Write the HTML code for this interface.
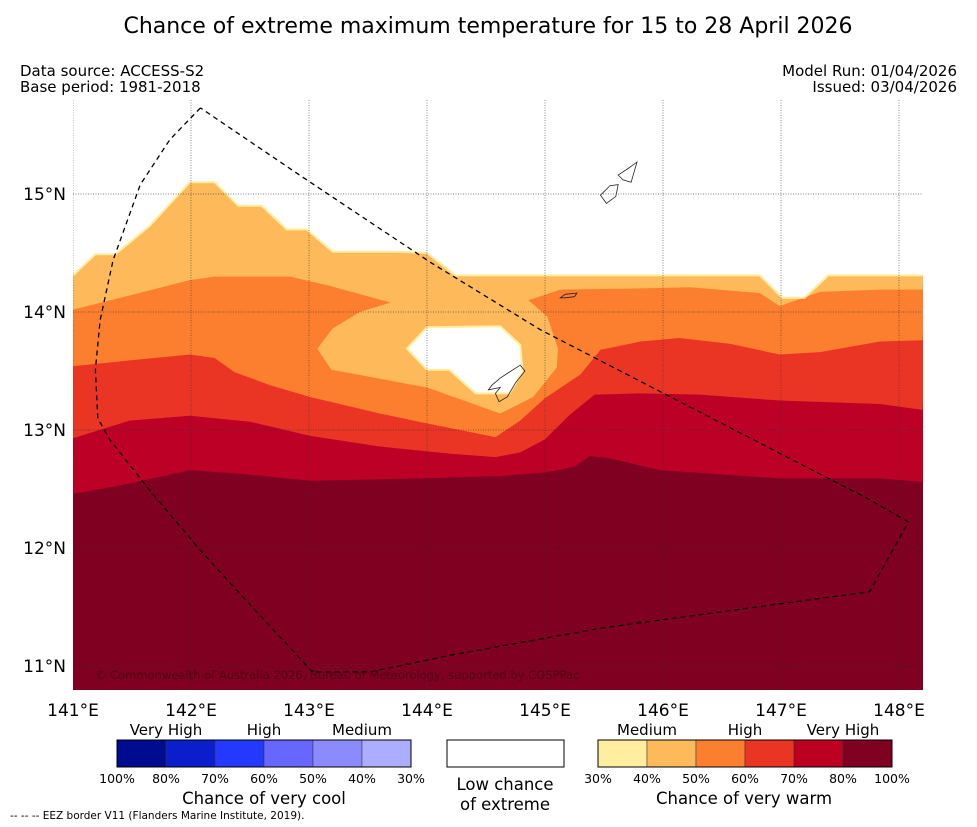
<!DOCTYPE html>
<html><head><meta charset="utf-8"><style>
html,body{margin:0;padding:0;background:#fff;}
svg{display:block;font-family:"DejaVu Sans","Liberation Sans",sans-serif;}
</style></head><body>
<svg id="chart" width="977" height="827" viewBox="0 0 977 827" xmlns="http://www.w3.org/2000/svg">
<text x="488" y="33" font-size="22" text-anchor="middle">Chance of extreme maximum temperature for 15 to 28 April 2026</text>
<text x="20" y="76" font-size="15">Data source: ACCESS-S2</text>
<text x="20" y="92" font-size="15">Base period: 1981-2018</text>
<text x="957" y="76" font-size="15" text-anchor="end">Model Run: 01/04/2026</text>
<text x="957" y="92" font-size="15" text-anchor="end">Issued: 03/04/2026</text>
<defs><clipPath id="mapclip"><rect x="73" y="100" width="850" height="590"/></clipPath></defs>
<g id="map" clip-path="url(#mapclip)"></g>
<g id="axes"></g>
<g id="legend"></g>
<text x="10" y="819" font-size="10.5">--  --  -- EEZ border V11 (Flanders Marine Institute, 2019).</text>
</svg>
<script>
// axis domain
const lonTicks = [141,142,143,144,145,146,147,148];
const latTicks = [11,12,13,14,15];
// contour boundaries (lon,lat)
const level70 = [[141.00,12.46],[141.40,12.53],[141.99,12.66],[142.42,12.63],[143.01,12.57],[143.94,12.59],[144.62,12.61],[145.00,12.64],[145.25,12.69],[145.38,12.78],[145.55,12.76],[145.97,12.66],[146.99,12.59],[147.84,12.59],[148.20,12.56]];
const level60 = [[141.00,12.93],[141.48,13.08],[141.99,13.12],[142.50,13.07],[143.01,12.95],[143.60,12.86],[144.19,12.80],[144.58,12.77],[144.79,12.81],[145.00,12.92],[145.21,13.13],[145.42,13.30],[145.81,13.31],[146.31,13.30],[146.99,13.25],[147.84,13.22],[148.20,13.17]];
const level50 = [[141.00,13.54],[141.48,13.59],[141.99,13.64],[142.20,13.61],[142.37,13.49],[142.67,13.38],[143.01,13.28],[143.60,13.14],[144.03,13.05],[144.58,12.94],[144.79,13.08],[145.00,13.27],[145.30,13.47],[145.47,13.68],[145.81,13.75],[146.14,13.78],[146.57,13.73],[146.99,13.64],[147.33,13.66],[147.84,13.75],[148.20,13.76]];
const level40 = [[141.00,14.02],[141.48,14.14],[141.99,14.27],[142.20,14.30],[142.84,14.30],[143.18,14.22],[143.69,14.08],[143.43,14.00],[143.20,13.86],[143.07,13.69],[143.19,13.51],[144.00,13.36],[144.62,13.14],[144.90,13.28],[145.10,13.53],[145.11,13.69],[145.02,13.96],[144.86,14.10],[145.13,14.19],[145.81,14.20],[146.23,14.21],[146.82,14.16],[146.99,14.05],[147.33,14.17],[147.84,14.19],[148.20,14.19]];
const level30 = [[141.00,14.31],[141.19,14.49],[141.36,14.49],[141.65,14.73],[141.99,15.10],[142.20,15.10],[142.40,14.90],[142.60,14.90],[142.81,14.70],[142.98,14.70],[143.20,14.51],[143.77,14.51],[144.00,14.50],[144.24,14.31],[145.13,14.31],[146.82,14.31],[147.01,14.12],[147.20,14.12],[147.40,14.31],[148.30,14.31]];
const hole30 = [[143.83,13.69],[144.00,13.87],[144.62,13.88],[144.79,13.72],[144.81,13.49],[144.70,13.31],[144.41,13.31],[144.19,13.51],[144.00,13.51]];
const eez = [[142.08,15.73],[141.82,15.46],[141.57,15.08],[141.34,14.44],[141.23,13.93],[141.19,13.51],[141.21,13.10],[141.31,12.92],[141.65,12.49],[142.08,11.98],[142.50,11.52],[143.03,10.95],[143.52,10.95],[144.19,11.09],[145.47,11.32],[147.75,11.63],[148.08,12.22],[147.75,12.41],[144.96,13.85],[144.03,14.42],[142.92,15.16],[142.08,15.73]];
const guam = [[144.62,13.44],[144.79,13.55],[144.83,13.50],[144.75,13.40],[144.68,13.28],[144.61,13.24],[144.58,13.31],[144.62,13.36],[144.52,13.34],[144.55,13.38]];
const rota = [[145.13,14.12],[145.17,14.15],[145.27,14.16],[145.25,14.13],[145.17,14.12]];
const tinianSaipan = [[145.62,15.16],[145.71,15.22],[145.78,15.27],[145.73,15.10],[145.66,15.12],[145.62,15.16]];
const tinian2 = [[145.47,14.99],[145.55,15.07],[145.62,15.08],[145.60,14.98],[145.52,14.92],[145.47,14.99]];
const levelColors = ["#800021","#BD0026","#EA3525","#FC7F30","#FDB95A","#FFFFFF"];
const coolColors = ["#000C8F","#0A1FCB","#2339FF","#6766FF","#8B8BFF","#ADADFF"];
const warmColors = ["#FFEDA0","#FDB95A","#FC7F30","#EA3524","#BD0022","#800021"];
const coolLabels = ["100%","80%","70%","60%","50%","40%","30%"];
const warmLabels = ["30%","40%","50%","60%","70%","80%","100%"];

const NS="http://www.w3.org/2000/svg";
const X0=73, LON0=141, PX=118, Y0=194, LAT0=15;
function xs(lon){return X0+(lon-LON0)*PX;}
function ys(lat){return Y0-(lat-LAT0)*PX;}
function mk(tag,attrs,parent){const e=document.createElementNS(NS,tag);for(const k in attrs)e.setAttribute(k,attrs[k]);parent.appendChild(e);return e;}
function pts(arr){return arr.map(p=>xs(p[0]).toFixed(1)+","+ys(p[1]).toFixed(1)).join(" ");}
function northPoly(arr){return pts(arr)+" "+xs(148.3)+","+ys(16)+" "+xs(140.9)+","+ys(16)+" "+xs(140.9)+","+ys(arr[0][1]);}
const map=document.getElementById('map');
let r=mk('rect',{x:60,y:90,width:880,height:620,fill:levelColors[0]},map);


const levels=[level70,level60,level50,level40,level30];
const lvNames=['region-70-80','region-60-70','region-50-60','region-40-50','region-low-chance'];
levels.forEach((lv,i)=>{
  const p=mk('polygon',{points:northPoly(lv),fill:levelColors[i+1],stroke:i===4?'#FFEDA0':'none','stroke-width':i===4?2:0},map);
  
  
});
let h=mk('polygon',{points:pts(hole30),fill:'#fff',stroke:'#FFEDA0','stroke-width':2},map);


// grid
lonTicks.forEach(t=>{const l=mk('line',{x1:xs(t),x2:xs(t),y1:100,y2:690,stroke:'#333','stroke-width':0.7,'stroke-dasharray':'1,1.5','opacity':0.8},map);
  
  });
latTicks.forEach(t=>{const l=mk('line',{x1:73,x2:923,y1:ys(t),y2:ys(t),stroke:'#333','stroke-width':0.7,'stroke-dasharray':'1,1.5','opacity':0.8},map);
  
  });
[guam,rota,tinianSaipan,tinian2].forEach((isl,i)=>{const p=mk('polygon',{points:pts(isl),fill:'none',stroke:'#222','stroke-width':0.8},map);
  
  });
let ez=mk('polyline',{points:pts(eez),fill:'none',stroke:'#000','stroke-width':1.3,'stroke-dasharray':'5,4'},map);


let cp=mk('text',{x:95,y:679,'font-size':11.5,fill:'#000','fill-opacity':0.4},map);
cp.textContent='© Commonwealth of Australia 2026, Bureau of Meteorology, supported by COSPPac';


// axis labels
const axes=document.getElementById('axes');
lonTicks.forEach(t=>{const e=mk('text',{x:xs(t),y:716,'font-size':17,'text-anchor':'middle'},axes);e.textContent=t+'°E';
  
  });
latTicks.forEach(t=>{const e=mk('text',{x:66,y:ys(t)+6,'font-size':17,'text-anchor':'end'},axes);e.textContent=t+'°N';
  
  });
// legend
const lg=document.getElementById('legend');
function bar(x0,cols,labels,name){
  const w=49;
  cols.forEach((c,i)=>{const b=mk('rect',{x:x0+i*w,y:740,width:w,height:27,fill:c,stroke:'#333','stroke-width':0.5},lg);
    
    });
  const o=mk('rect',{x:x0,y:740,width:w*cols.length,height:27,fill:'none',stroke:'#000','stroke-width':1},lg);
  
  
  labels.forEach((l,i)=>{const e=mk('text',{x:x0+i*w,y:783,'font-size':12.5,'text-anchor':'middle'},lg);e.textContent=l;
    
    });
}
bar(117,coolColors,coolLabels,'cool-colorbar');
bar(598,warmColors,warmLabels,'warm-colorbar');
const texts=[[166,735,15,'Very High'],[264,735,15,'High'],[362,735,15,'Medium'],[264,804,16.5,'Chance of very cool'],
 [647,735,15,'Medium'],[745,735,15,'High'],[843,735,15,'Very High'],[744,804,16.5,'Chance of very warm'],
 [505,790,16.5,'Low chance'],[505,810,16.5,'of extreme']];
texts.forEach(t=>{const e=mk('text',{x:t[0],y:t[1],'font-size':t[2],'text-anchor':'middle'},lg);e.textContent=t[3];
  
  });
let wb=mk('rect',{x:447,y:740,width:117,height:27,fill:'#fff',stroke:'#000','stroke-width':1},lg);


</script>
</body></html>
